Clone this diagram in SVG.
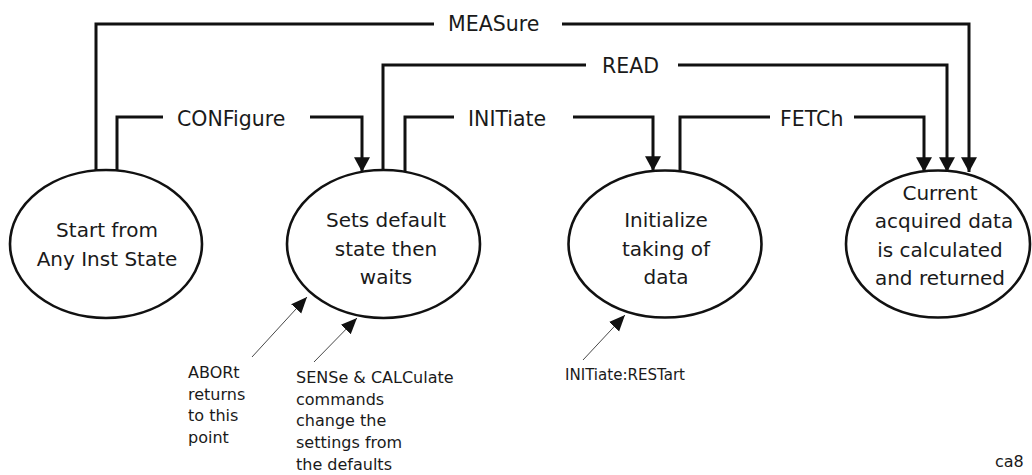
<svg xmlns="http://www.w3.org/2000/svg" width="1032" height="475" viewBox="0 0 1032 475">
<style>
.bg{fill:#fff}
.node{fill:none;stroke:#111;stroke-width:2.6}
.con{fill:none;stroke:#111;stroke-width:3}
.thin{fill:none;stroke:#333;stroke-width:0.9}
text{font-family:"DejaVu Sans","Liberation Sans",sans-serif;fill:#1a1a1a}
.lbl{font-size:20.5px}
.nt{font-size:20px;text-anchor:middle}
.note{font-size:16px}
</style>
<defs>
<marker id="ah" markerUnits="userSpaceOnUse" markerWidth="16" markerHeight="16" viewBox="0 0 14 14" refX="13" refY="7" orient="auto">
<path d="M0,0 L13,7 L0,14 Z" fill="#111"/>
</marker>
<marker id="ahs" markerUnits="userSpaceOnUse" markerWidth="16" markerHeight="16" viewBox="0 0 14 12" refX="14" refY="6" orient="auto">
<path d="M0,0 L14,6 L0,12 Z" fill="#111"/>
</marker>
</defs>
<rect class="bg" x="0" y="0" width="1032" height="475"/>
<g id="connectors">
<path class="con" d="M96,171 V24 H434"/>
<path class="con" d="M562,24 H969 V172" marker-end="url(#ah)"/>
<path class="con" d="M383,171 V65 H586"/>
<path class="con" d="M678,65 H947 V172" marker-end="url(#ah)"/>
<path class="con" d="M117,171 V117 H163"/>
<path class="con" d="M310,117 H362 V172" marker-end="url(#ah)"/>
<path class="con" d="M405,171 V117 H454"/>
<path class="con" d="M573,117 H653 V171" marker-end="url(#ah)"/>
<path class="con" d="M680,171 V117 H770"/>
<path class="con" d="M854,117 H924 V172" marker-end="url(#ah)"/>
<path class="thin" d="M252,357 L307,297" marker-end="url(#ahs)"/>
<path class="thin" d="M314,362 L357,318" marker-end="url(#ahs)"/>
<path class="thin" d="M583,360 L625,315" marker-end="url(#ahs)"/>
<text class="lbl" x="448" y="31">MEASure</text>
<text class="lbl" x="602" y="73">READ</text>
<text class="lbl" x="177" y="126">CONFigure</text>
<text class="lbl" x="468" y="126">INITiate</text>
<text class="lbl" x="780" y="126">FETCh</text>
</g>
<g id="start">
<ellipse class="node" cx="106" cy="244" rx="96" ry="74"/>
<text class="nt" x="107" y="237">Start from</text>
<text class="nt" x="107" y="266">Any Inst State</text>
</g>
<g id="default">
<ellipse class="node" cx="383.5" cy="244" rx="96.5" ry="74"/>
<text class="nt" x="386" y="227">Sets default</text>
<text class="nt" x="386" y="256">state then</text>
<text class="nt" x="386" y="284">waits</text>
</g>
<g id="initialize">
<ellipse class="node" cx="665" cy="244" rx="96.5" ry="73.5"/>
<text class="nt" x="666" y="227">Initialize</text>
<text class="nt" x="666" y="256">taking of</text>
<text class="nt" x="666" y="284">data</text>
</g>
<g id="current">
<ellipse class="node" cx="938" cy="244" rx="92" ry="73.5"/>
<text class="nt" x="940" y="200">Current</text>
<text class="nt" x="944" y="228">acquired data</text>
<text class="nt" x="940" y="257">is calculated</text>
<text class="nt" x="940" y="285">and returned</text>
</g>
<g id="notes">
<text class="note" x="188" y="378">ABORt</text>
<text class="note" x="188" y="400">returns</text>
<text class="note" x="188" y="421">to this</text>
<text class="note" x="188" y="443">point</text>
<text class="note" x="296" y="383">SENSe &amp; CALCulate</text>
<text class="note" x="296" y="405">commands</text>
<text class="note" x="296" y="426">change the</text>
<text class="note" x="296" y="448">settings from</text>
<text class="note" x="296" y="470">the defaults</text>
<text class="note" x="565" y="380" textLength="120" lengthAdjust="spacingAndGlyphs">INITiate:RESTart</text>
<text class="note" x="995" y="467">ca8</text>
</g>
</svg>
